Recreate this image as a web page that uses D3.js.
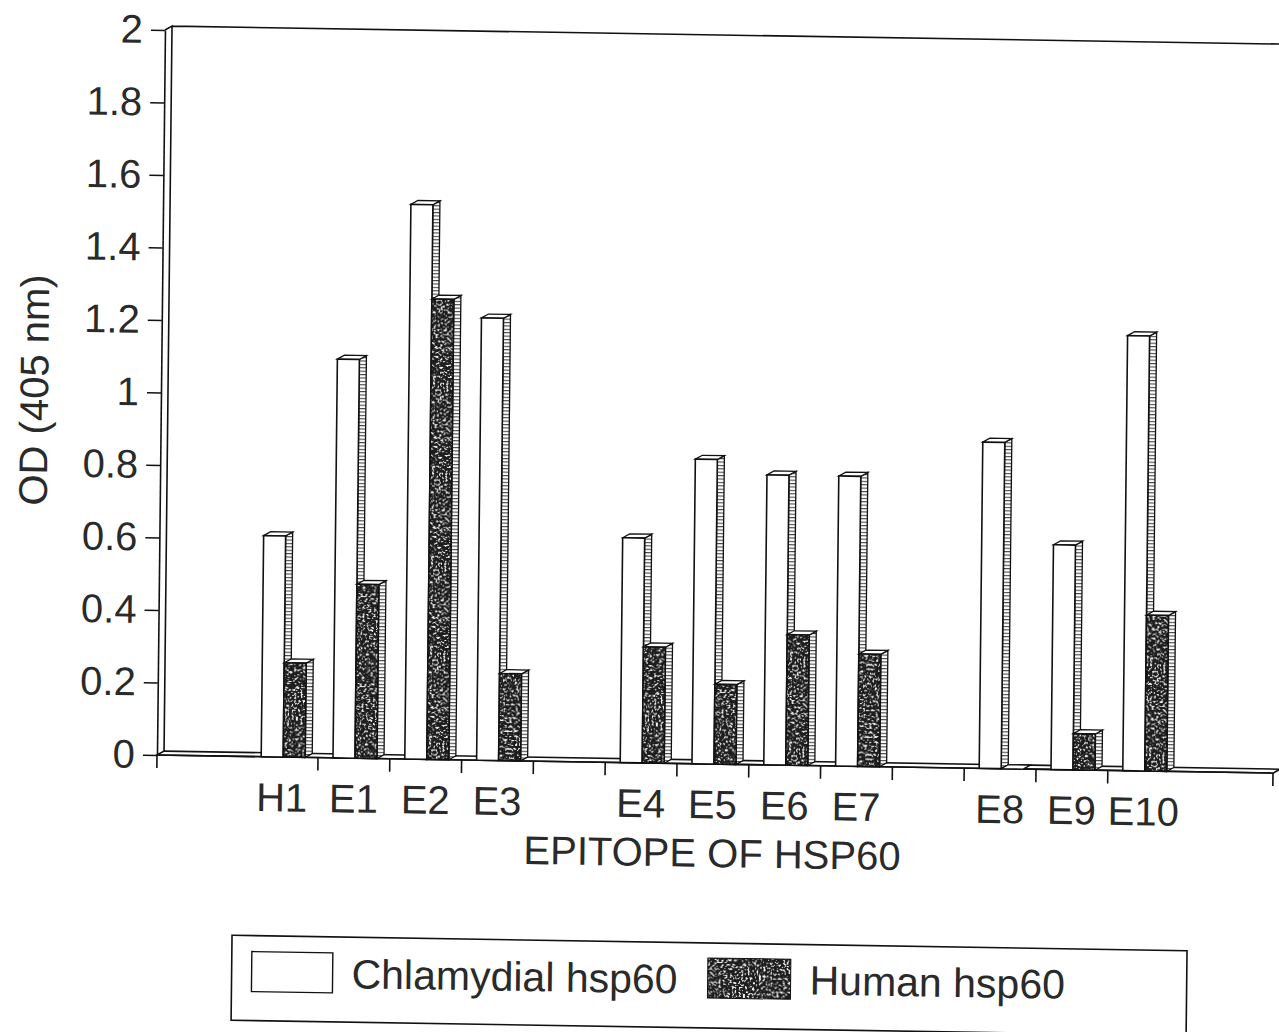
<!DOCTYPE html>
<html>
<head>
<meta charset="utf-8">
<script src="https://cdn.jsdelivr.net/npm/d3@7"></script>
<style>
  html, body { margin: 0; padding: 0; background: #fff; }
  svg { display: block; }
  text { font-family: "Liberation Sans", Arial, Helvetica, sans-serif; fill: #2a2a2a; }
</style>
</head>
<body>
<svg id="chart" width="1279" height="1032"></svg>
<script>
// Epitope slots along the x axis ("" = empty spacer slot)
const categories = ["H1", "E1", "E2", "E3", "", "E4", "E5", "E6", "E7", "", "E8", "E9", "E10"];
// OD readings at 405 nm
const chlamydial = [0.61, 1.10, 1.53, 1.22, null, 0.62, 0.84, 0.80, 0.80, null, 0.90, 0.62, 1.20];
const human      = [0.26, 0.48, 1.27, 0.24, null, 0.32, 0.22, 0.36, 0.31, null, 0.00, 0.10, 0.43];
const yTicks      = [0, 0.2, 0.4, 0.6, 0.8, 1, 1.2, 1.4, 1.6, 1.8, 2];
const yTickLabels = ["0", "0.2", "0.4", "0.6", "0.8", "1", "1.2", "1.4", "1.6", "1.8", "2"];
const seriesNames = ["Chlamydial hsp60", "Human hsp60"];
const yTitle = "OD (405 nm)";
const xTitle = "EPITOPE OF HSP60";

// ---- geometry ----
const axisLen = 1116;      // length of the category axis
const plotH = 725;         // height of the value axis
const slotStart = 89.2, slotStep = 71.8;
const DX = 7, DY = -4;     // 3-D depth offset
const barW = 22, barInset = 15;
const stroke = "#111";
const textFill = "#2a2a2a";

const svg = d3.select("#chart");
svg.append("rect").attr("width", 1279).attr("height", 1032).attr("fill", "#fff");

const defs = svg.append("defs");
// speckled dark fill
const spk = defs.append("filter").attr("id", "specks")
  .attr("x", 0).attr("y", 0).attr("width", 1).attr("height", 1);
spk.append("feTurbulence").attr("type", "fractalNoise").attr("baseFrequency", 0.45)
  .attr("numOctaves", 2).attr("seed", 11).attr("result", "n");
spk.append("feColorMatrix").attr("in", "n").attr("type", "matrix")
  .attr("values", "0 0 0 0 0.9  0 0 0 0 0.9  0 0 0 0 0.9  9 0 0 0 -4.9");
const pat = defs.append("pattern").attr("id", "stipple")
  .attr("patternUnits", "userSpaceOnUse").attr("width", 90).attr("height", 90);
pat.append("rect").attr("width", 90).attr("height", 90).attr("fill", "#1d1d1d");
pat.append("rect").attr("width", 90).attr("height", 90).attr("fill", "#fff").attr("filter", "url(#specks)");
// hatched side faces
const lad = defs.append("pattern").attr("id", "ladder")
  .attr("patternUnits", "userSpaceOnUse").attr("width", 12).attr("height", 3.4);
lad.append("rect").attr("width", 12).attr("height", 3.4).attr("fill", "#fff");
lad.append("rect").attr("y", 0).attr("width", 12).attr("height", 1.1).attr("fill", "#444");

// whole figure sits slightly tilted on the page
const g = svg.append("g").attr("transform", "matrix(1,0.0162,-0.011,1,157,755)");

const y = d3.scaleLinear().domain([0, 2]).range([0, -plotH]);
const x = d3.scaleBand().domain(d3.range(categories.length))
  .range([slotStart, slotStart + categories.length * slotStep]).padding(0);

// floor strip
g.append("path")
  .attr("d", `M0,0 L${DX},${DY} L${axisLen + DX},${DY} L${axisLen},0 Z`)
  .attr("fill", "#fff").attr("stroke", stroke).attr("stroke-width", 1.6);

// side wall and top edge of the back wall
g.append("path")
  .attr("d", `M${DX},${DY} L${DX},${y(2) + DY} L0,${y(2)} M${DX},${y(2) + DY} L${axisLen + 60},${y(2) + DY}`)
  .attr("fill", "none").attr("stroke", stroke).attr("stroke-width", 1.6);

// value axis
const yAxis = d3.axisLeft(y).tickValues(yTicks)
  .tickFormat((d, i) => yTickLabels[i]).tickSize(14).tickSizeOuter(0).tickPadding(8);
const ya = g.append("g").call(yAxis);
ya.selectAll("path, line").attr("stroke", stroke).attr("stroke-width", 1.6);
ya.selectAll("text").attr("font-size", 40).attr("fill", textFill)
  .style("font-family", '"Liberation Sans", Arial, sans-serif');

// category axis: baseline and slot boundary ticks
g.append("line").attr("x1", 0).attr("x2", axisLen).attr("y1", 0).attr("y2", 0)
  .attr("stroke", stroke).attr("stroke-width", 1.6);
const edges = [0].concat(d3.range(1, categories.length).map(i => x(i)), [axisLen]);
g.selectAll("line.xtick").data(edges).join("line").attr("class", "xtick")
  .attr("x1", d => d).attr("x2", d => d).attr("y1", 0).attr("y2", 13)
  .attr("stroke", stroke).attr("stroke-width", 1.6);

const xAxis = d3.axisBottom(x).tickFormat(i => categories[i]).tickSize(0).tickPadding(26);
const xa = g.append("g").call(xAxis);
xa.select(".domain").remove();
xa.selectAll("text").attr("font-size", 40).attr("fill", textFill)
  .style("font-family", '"Liberation Sans", Arial, sans-serif');

// 3-D bars
function bar(parent, x0, v, frontFill) {
  const yt = y(v);
  const bg = parent.append("g");
  bg.append("path")
    .attr("d", `M${x0 + barW},0 L${x0 + barW + DX},${DY} L${x0 + barW + DX},${yt + DY} L${x0 + barW},${yt} Z`)
    .attr("fill", "url(#ladder)").attr("stroke", stroke).attr("stroke-width", 1.3);
  bg.append("path")
    .attr("d", `M${x0},${yt} L${x0 + DX},${yt + DY} L${x0 + barW + DX},${yt + DY} L${x0 + barW},${yt} Z`)
    .attr("fill", "#fff").attr("stroke", stroke).attr("stroke-width", 1.3);
  bg.append("rect").attr("x", x0).attr("y", yt).attr("width", barW).attr("height", -yt)
    .attr("fill", frontFill).attr("stroke", stroke).attr("stroke-width", 1.6);
}
const bars = g.append("g");
categories.forEach((c, i) => {
  if (chlamydial[i] !== null) bar(bars, x(i) + barInset, chlamydial[i], "#fff");
  if (human[i] !== null) bar(bars, x(i) + barInset + barW, human[i], "url(#stipple)");
});

// axis titles
g.append("text").attr("x", axisLen / 2 - 2).attr("y", 103).attr("text-anchor", "middle")
  .attr("font-size", 40).text(xTitle);
g.append("text").attr("transform", "translate(-113,-363) rotate(-90)")
  .attr("text-anchor", "middle").attr("font-size", 40).text(yTitle);

// legend
const lg = g.append("g");
lg.append("rect").attr("x", 77).attr("y", 179).attr("width", 955).attr("height", 85)
  .attr("fill", "#fff").attr("stroke", stroke).attr("stroke-width", 1.6);
lg.append("rect").attr("x", 97).attr("y", 195).attr("width", 81).attr("height", 40)
  .attr("fill", "#fff").attr("stroke", stroke).attr("stroke-width", 1.4);
lg.append("text").attr("x", 197).attr("y", 230).attr("font-size", 41).text(seriesNames[0]);
lg.append("rect").attr("x", 553).attr("y", 194).attr("width", 83).attr("height", 40)
  .attr("fill", "url(#stipple)").attr("stroke", stroke).attr("stroke-width", 1);
lg.append("text").attr("x", 655).attr("y", 229).attr("font-size", 41).text(seriesNames[1]);
</script>
</body>
</html>
